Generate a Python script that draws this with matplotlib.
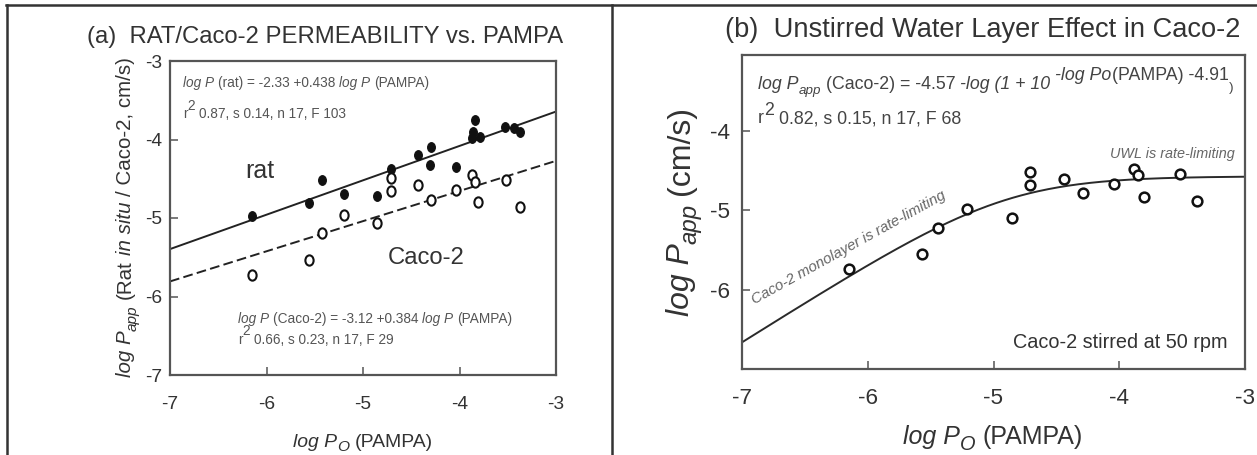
import numpy as np
import matplotlib
matplotlib.use('Agg')
import matplotlib.pyplot as plt
from matplotlib.font_manager import FontProperties, fontManager
from matplotlib.lines import Line2D
from matplotlib.path import Path
from matplotlib.transforms import Affine2D

# panel (a): rat in situ (filled) and Caco-2 (open) vs PAMPA
rat_po = [-6.15, -5.56, -5.42, -5.20, -4.85, -4.71, -4.43, -4.30, -4.31, -4.04,
          -3.84, -3.86, -3.87, -3.79, -3.53, -3.44, -3.37]
rat_papp = [-4.98, -4.81, -4.51, -4.69, -4.72, -4.37, -4.20, -4.10, -4.32, -4.35,
            -3.75, -3.91, -3.98, -3.97, -3.84, -3.85, -3.90]
caco_po_a = [-6.15, -5.56, -5.42, -5.20, -4.85, -4.71, -4.71, -4.43, -4.30, -4.04,
             -3.87, -3.84, -3.81, -3.52, -3.37]
caco_papp_a = [-5.73, -5.535, -5.19, -4.96, -5.07, -4.49, -4.65, -4.58, -4.77, -4.64,
               -4.45, -4.54, -4.80, -4.52, -4.86]
rat_fit = (-2.33, 0.438)
caco_fit = (-3.12, 0.384)

# panel (b): Caco-2 stirred at 50 rpm
caco_po_b = [-6.15, -5.57, -5.44, -5.21, -4.85, -4.71, -4.71, -4.44, -4.29, -4.04,
             -3.88, -3.85, -3.80, -3.52, -3.38]
caco_papp_b = [-5.74, -5.55, -5.22, -4.98, -5.10, -4.51, -4.68, -4.60, -4.78, -4.67,
               -4.48, -4.55, -4.83, -4.54, -4.88]
uwl_fit = (-4.57, -4.91)

ticks = [-7, -6, -5, -4, -3]

plt.rcParams['axes.unicode_minus'] = False
plt.rcParams['font.family'] = ['Liberation Sans', 'DejaVu Sans']

# panel (a) of the original is set in a narrow face
have_narrow = any(f.name == 'Liberation Sans Narrow' for f in fontManager.ttflist)
NARROW = 'Liberation Sans Narrow' if have_narrow else 'Liberation Sans'
SQ = 1.0 if have_narrow else 0.82
NORMAL = 'Liberation Sans'

W, H = 1257, 455
fig = plt.figure(figsize=(W / 100, H / 100), dpi=100)


def box(l, t, r, b):
    return [l / W, 1 - b / H, (r - l) / W, (b - t) / H]


ax1 = fig.add_axes(box(170, 61, 556, 375))
ax2 = fig.add_axes(box(742, 55, 1245, 369))
rend = fig.canvas.get_renderer()


def adv(s, prop):
    w1 = rend.get_text_width_height_descent('|' + s + '|', prop, ismath=False)[0]
    w0 = rend.get_text_width_height_descent('||', prop, ismath=False)[0]
    return w1 - w0


def write(x, y, parts, size, family, color='#333333', rot=0, center=False):
    # x, y in picture pixels (top-left origin), y is the baseline
    items, pen = [], 0.0
    for s, style, rise, scale in parts:
        prop = FontProperties(family=family, style=style, size=size * scale)
        items.append((s, prop, pen, rise))
        pen += adv(s, prop)
    start = -pen / 2 if center else 0.0
    for s, prop, p, rise in items:
        t = s.strip()
        if not t:
            continue
        lead = adv(s[:len(s) - len(s.lstrip())], prop)
        if rot == 90:
            px, py = x - rise, (H - y) + start + p + lead
        else:
            px, py = x + start + p + lead, (H - y) + rise
        fig.text(px / W, py / H, t, fontproperties=prop, color=color, rotation=rot,
                 rotation_mode='anchor', ha='left', va='baseline')


N, I = 'normal', 'italic'

# ---- panel (a)
oval = Path.unit_circle().transformed(Affine2D().scale(0.8, 1.0))
xf = np.array([-7.0, -3.0])
ax1.plot(xf, rat_fit[0] + rat_fit[1] * xf, color='#222222', lw=1.4)
ax1.plot(xf, caco_fit[0] + caco_fit[1] * xf, color='#222222', lw=1.4, ls=(0, (5, 2.2)))
ax1.plot(rat_po, rat_papp, ls='none', marker=oval, ms=7, mfc='#111111', mec='#111111', mew=0.8)
ax1.plot(caco_po_a, caco_papp_a, ls='none', marker=oval, ms=7.4, mfc='white', mec='#111111', mew=1.5)
ax1.set_xlim(-7, -3)
ax1.set_ylim(-7, -3)
ax1.set_xticks(ticks)
ax1.set_yticks(ticks)
ax1.tick_params(labelsize=16.8 * SQ, labelfontfamily=NARROW)
ax1.tick_params(axis='x', pad=15)
ax1.tick_params(axis='y', pad=5.8)

# ---- panel (b)
xs = np.linspace(-7, -3, 300)
ax2.plot(xs, uwl_fit[0] - np.log10(1 + 10 ** (-xs + uwl_fit[1])), color='#2a2a2a', lw=1.4)
ax2.plot(caco_po_b, caco_papp_b, ls='none', marker='o', ms=7, mfc='white', mec='#111111', mew=1.8)
ax2.set_xlim(-7, -3)
ax2.set_ylim(-7, -3.04)
ax2.set_xticks(ticks)
ax2.set_yticks([-6, -5, -4])
ax2.tick_params(labelsize=16.2, labelfontfamily=NORMAL)
ax2.tick_params(axis='x', pad=13.5)
ax2.tick_params(axis='y', pad=8.6)

for ax in (ax1, ax2):
    for sp in ax.spines.values():
        sp.set_color('#555555')
        sp.set_linewidth(1.6)
    ax.tick_params(direction='in', length=5.8, width=1.1, color='#555555',
                   labelcolor='#333333', top=False, right=False)

# titles
write(87, 43, [('(a)  RAT/Caco-2 PERMEABILITY vs. PAMPA', N, 0, 1)], 21 * SQ, NARROW)
write(725, 37, [('(b)  Unstirred Water Layer Effect in Caco-2', N, 0, 1)], 19.6, NORMAL)

# axis labels
write(363, 447, [('log P', I, 0, 1), ('O', I, -4, 0.8), (' (PAMPA)', N, 0, 1)],
      17 * SQ, NARROW, center=True)
write(131, 217, [('log P', I, 0, 1), ('app', I, -6, 0.75), (' (Rat ', N, 0, 1),
                 ('in situ', I, 0, 1), (' / Caco-2, cm/s)', N, 0, 1)],
      18 * SQ, NARROW, rot=90, center=True)
write(993, 444, [('log P', I, 0, 1), ('O', I, -6, 0.8), (' (PAMPA)', N, 0, 1)],
      18, NORMAL, center=True)
write(689, 211, [('log P', I, 0, 1), ('app', I, -7, 0.75), (' (cm/s)', N, 0, 1)],
      23, NORMAL, rot=90, center=True)

# panel (a) annotations
eq_gray = '#555555'
write(183, 87, [('log P', I, 0, 1), (' (rat) = -2.33 +0.438 ', N, 0, 1), ('log P', I, 0, 1),
                (' (PAMPA)', N, 0, 1)], 12 * SQ, NARROW, eq_gray)
write(183, 118, [('r', N, 0, 1), ('2', N, 8, 1), (' 0.87, s 0.14, n 17, F 103', N, 0, 1)],
      12 * SQ, NARROW, eq_gray)
write(238, 323, [('log P', I, 0, 1), (' (Caco-2) = -3.12 +0.384 ', N, 0, 1), ('log P', I, 0, 1),
                 (' (PAMPA)', N, 0, 1)], 12 * SQ, NARROW, eq_gray)
write(238, 344, [('r', N, 0, 1), ('2', N, 9, 1), (' 0.66, s 0.23, n 17, F 29', N, 0, 1)],
      12 * SQ, NARROW, eq_gray)
write(245, 178, [('rat', N, 0, 1)], 22 * SQ, NARROW)
write(388, 264, [('Caco-2', N, 0, 1)], 21 * SQ, NARROW)

# panel (b) annotations
write(758, 89, [('log P', I, 0, 1), ('app', I, -5, 0.75), (' (Caco-2) = -4.57 ', N, 0, 1),
                ('-log (1 + 10 ', I, 0, 1), ('-log Po', I, 9, 1), ('(PAMPA) -4.91', N, 9, 1),
                (')', N, -2, 0.75)], 12.8, NORMAL, '#444444')
write(758, 123, [('r', N, 0, 1), ('2', N, 8, 1), (' 0.82, s 0.15, n 17, F 68', N, 0, 1)],
      12.8, NORMAL, '#444444')
write(1110, 158, [('UWL is rate-limiting', I, 0, 1)], 10.4, NORMAL, '#666666')
write(1013, 348, [('Caco-2 stirred at 50 rpm', N, 0, 1)], 14.3, NORMAL)
fig.text(755 / W, 1 - 304 / H, 'Caco-2 monolayer is rate-limiting', fontsize=10.8,
         style='italic', color='#666666', rotation=29, rotation_mode='anchor',
         ha='left', va='baseline')

# outer frame
for xs_, ys_ in [([6, W], [5, 5]), ([7, 7], [5, H]), ([612, 612], [5, H])]:
    fig.add_artist(Line2D([v / W for v in xs_], [1 - v / H for v in ys_],
                          transform=fig.transFigure, color='#333333', lw=1.8))

fig.savefig('out.png', dpi=100)
